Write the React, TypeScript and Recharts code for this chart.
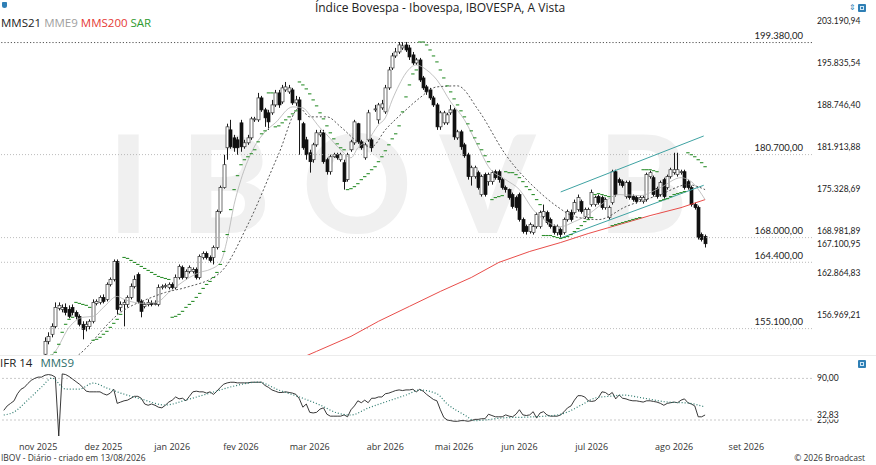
import React from 'react';
import { ComposedChart, Bar, Line, XAxis, YAxis, ReferenceLine } from 'recharts';

// daily candles, IBOV (index 0 = mid Oct 2025, last = 13/08/2026)
const open = [
  142800, 143500, 144200, 144000, 144900, 145600, 146300, 146000, 147100, 147900, 148600, 149500,
  151650, 153380, 154330, 155410, 157880, 157740, 158020, 157740, 158020,
  157330, 156780, 155690, 155410, 155410, 156100, 158570, 158710, 159410, 159130,
  161230, 161940, 164520, 158020, 158430, 158430, 159410, 160950, 162650, 158850,
  158160, 158430, 158570, 158430, 158430, 160810, 160950, 160810, 161230, 160810,
  162220, 163660, 162220, 163080, 163080, 163370, 162220, 165100, 165680, 165100, 165100, 166550,
  171880, 175540, 181790, 184670, 183380, 183060, 185810, 181950, 182580, 183380,
  186300, 186300, 189920, 187940, 187450, 187450, 188760, 190760, 189260, 191260,
  190930, 191260, 189090, 189590, 185670, 183060, 180990, 179890, 182260, 183860,
  184190, 179890, 178010, 180360, 180680, 179890, 179420, 176770, 181470, 182580,
  185670, 182740, 180200, 183060, 183060, 187940, 186300, 188270, 187610, 191600,
  194980, 197050, 197740, 198440, 198960, 198440, 197230,
  195840, 196360, 193280, 191770, 191260, 189920, 188760, 185160, 185810, 185810,
  187450, 187940, 183380, 184350, 182260, 180680, 177240, 177240, 177860, 174470,
  177550, 176460, 176460, 178010, 178010, 176770, 175540, 175230, 174470, 174010,
  174470, 170680, 169630, 168900, 168750, 169630, 169630, 171130, 171730, 170680,
  169630, 168750, 169190, 168750, 170680, 171730, 171730, 172180, 173390, 171130, 170980, 172940,
  172940, 174160, 174010, 172480, 170980, 173240, 178010, 176770, 176460, 174160,
  176310, 174160, 174010, 173700, 173390, 173700, 177240, 177080, 175390, 174470,
  176770, 175540, 177240, 177860, 177550, 177860, 178010, 176460, 175540, 172940, 172480, 168450, 168160,
];
const high = [
  143900, 144600, 144500, 145200, 145900, 146600, 146700, 147400, 148200, 148900, 149800, 150700,
  153920, 154600, 155820, 158710, 158710, 158430, 158570, 158300, 158430,
  157600, 157050, 156100, 156100, 156370, 159130, 159130, 159690, 159830, 161520,
  162220, 164810, 164810, 158850, 159130, 159690, 161370, 162510, 162940, 159130,
  158710, 159130, 158990, 158990, 161230, 161230, 161370, 161520, 161520, 162650,
  164090, 163940, 163370, 163940, 163660, 163660, 165530, 165970, 165970, 165390, 166840, 172180,
  175850, 180680, 185670, 186300, 183860, 183540, 186300, 183060, 183860, 186790,
  186790, 190760, 190260, 188270, 187940, 189590, 191260, 191260, 192100, 192600,
  192100, 191600, 190260, 190090, 185970, 183540, 181470, 182580, 184670, 184670,
  184670, 180200, 180680, 180990, 180990, 180990, 179890, 180990, 183060, 186300,
  185810, 183060, 182580, 187940, 183380, 188760, 189090, 189590, 192100, 195160,
  197570, 198440, 199480, 199480, 199480, 198960, 197740,
  196710, 196710, 193620, 192100, 191600, 190260, 189090, 187780, 187780, 187450,
  188760, 188270, 184670, 184670, 182580, 180990, 178950, 178950, 178170, 177550,
  177860, 177860, 178170, 178320, 178320, 177080, 175850, 175390, 174770, 174310,
  174770, 170980, 169930, 170230, 169930, 171730, 172030, 172940, 172030, 170980,
  169930, 169930, 169490, 170980, 172180, 172180, 173700, 174470, 173700, 172480, 172480, 175230,
  174310, 174470, 174310, 174010, 172790, 178320, 178320, 177080, 176770, 176620,
  176620, 174470, 174310, 174310, 174310, 177860, 178170, 177390, 175690, 176620,
  177080, 177550, 178630, 180990, 180990, 178320, 178320, 176770, 175850, 173240, 172790, 168750, 168450,
];
const low = [
  142500, 143200, 143600, 143800, 144700, 145400, 145700, 145900, 146900, 147600, 148300, 149200,
  151250, 152980, 153920, 155140, 157600, 157330, 156920, 156510, 156920,
  156370, 155410, 153650, 154730, 155000, 155820, 158300, 158430, 158570, 158850,
  160950, 161660, 157050, 157470, 155410, 158020, 159130, 160670, 158570, 156650,
  157880, 158160, 158160, 158300, 158160, 160530, 160670, 160530, 160530, 160530,
  161940, 161940, 161940, 162800, 162800, 161940, 161940, 164810, 164810, 164380, 164090, 166260,
  171580, 175380, 179890, 181630, 181150, 180680, 181150, 181630, 182260, 183060,
  185970, 185970, 187610, 185160, 184670, 187120, 188430, 188270, 188930, 190930,
  190600, 188760, 188600, 180680, 181470, 179890, 177860, 179420, 181950, 183540,
  179260, 177550, 177550, 180200, 179890, 179580, 175230, 176460, 181150, 182260,
  182420, 181470, 179890, 182740, 181150, 187610, 185670, 187940, 187280, 191260,
  194640, 196710, 197400, 198090, 197740, 196360, 195500,
  195500, 192600, 191260, 190430, 189590, 188430, 184670, 184670, 185490, 185490,
  187120, 183060, 183060, 181470, 180200, 176770, 175850, 176930, 175230, 174160,
  174160, 175850, 176000, 176770, 176310, 175230, 174770, 173700, 172330, 172030,
  170380, 168600, 168450, 168600, 168450, 169340, 169340, 170830, 169930, 169340,
  168450, 168310, 168010, 168450, 170380, 170380, 171430, 171880, 171580, 170830, 170680, 172640,
  172640, 172940, 172180, 172180, 170680, 172940, 174160, 175850, 175540, 173850,
  173700, 173390, 173090, 173390, 173090, 173390, 176930, 174160, 173850, 174160,
  173850, 175230, 176930, 177550, 177240, 177550, 175230, 175230, 172640, 172180, 167720, 167430, 166550,
];
const close = [
  143500, 144200, 144000, 144900, 145600, 146300, 146000, 147100, 147900, 148600, 149500, 150400,
  153380, 154050, 155410, 158020, 158300, 158020, 157330, 156780, 157330,
  156780, 155690, 155000, 155690, 156100, 158710, 158850, 159410, 158850, 161230,
  161940, 164520, 157740, 158430, 158710, 159410, 160950, 161940, 158850, 157470,
  158430, 158710, 158430, 158570, 160810, 160950, 161090, 161230, 160810, 162220,
  163800, 162220, 163080, 163660, 163370, 162220, 165250, 165680, 165100, 164670, 166550, 171880,
  175540, 179100, 185160, 181950, 181790, 181790, 181950, 182580, 183380, 186460,
  186460, 189920, 187940, 186630, 185970, 188760, 190760, 188760, 191600, 191770,
  191600, 189090, 189590, 186300, 181790, 180680, 179580, 182260, 184190, 184190,
  179580, 178010, 180360, 180680, 180200, 180680, 176460, 180680, 182740, 185970,
  182740, 181790, 182260, 187450, 181790, 188100, 188760, 188930, 191600, 194640,
  197050, 197740, 198960, 198790, 198090, 196880, 195840,
  196360, 192940, 191600, 190930, 189920, 188760, 185160, 187450, 187450, 187120,
  187940, 183540, 184350, 181950, 180520, 177240, 178630, 178630, 175540, 177240,
  174470, 177550, 177860, 177080, 176770, 175540, 175230, 174010, 172640, 172480,
  170680, 168900, 168900, 169930, 169630, 171430, 171730, 171880, 170230, 169630,
  168750, 169630, 168450, 170680, 171880, 170680, 173240, 174010, 171880, 172180, 172180, 174770,
  174010, 173240, 172480, 173700, 172480, 178010, 174470, 176310, 175850, 176310,
  174010, 173700, 173390, 174010, 174010, 177550, 177860, 174470, 174160, 176310,
  174160, 177240, 178320, 178320, 178320, 178010, 175540, 175540, 172940, 172480, 168010, 167720, 167100.95,
];

// parabolic SAR, one value per candle
const sar = [
  140500, 141000, 141600, 142100, 142700, 143200, 143800, 144300, 144900, 145500, 146100, 146800,
  150300, 150980, 151520, 151910, 152980, 154600, 155690, 156370, 156650,
  158710, 158570, 158430, 158300, 158020,
  153520, 153650, 153920, 154330, 154730, 155270, 155820, 156370, 157050,
  165100, 164960, 164670, 164380, 164090, 163800, 163510, 163230, 162940, 162650, 162370, 162220, 162080, 161940,
  156650, 156780, 157050, 157470, 158020, 158430, 158850, 159410, 159970, 160670, 161230, 161660, 162220, 162940,
  164090, 165970, 168450, 172180, 175230, 177390, 179100, 179890, 180360, 180840, 181470, 182740, 184030, 184510,
  190760, 190760,
  185160, 185320, 185810, 186300, 186790, 187280, 187780,
  192600, 192100, 191430, 190600, 189590, 188600, 187450, 186460, 185320, 184190, 183220, 182420, 181790, 181470,
  175230, 175380, 175690, 176150, 176770, 177240, 177700, 178320, 178790, 179580,
  180360, 181310, 182260, 183220, 184030, 185320, 187610, 190090, 192100, 193960,
  194640,
  199480, 199480, 198960, 198090, 197050, 196020, 194640, 193280, 191940, 190930, 189760,
  188760, 187780, 186790, 185650, 184510, 183380, 182420, 181470, 180520, 179580,
  173700, 174010, 174160, 174310,
  178010, 177860, 177860, 177550, 177080, 176460, 175690, 175230, 174470, 173700, 172940,
  168310, 168310, 168310, 168160, 168010, 167870, 168010, 168160, 168450, 168900, 169340, 169780, 170380, 170680, 170980,
  174470, 174620, 174470, 174310, 174160,
  169780, 169930, 170080, 170230, 170380, 170530, 170680, 170830, 170980,
  178320, 178320, 178320, 178170, 178010,
  173540, 173700, 173850, 174160, 174470, 174620, 174770, 174930,
  180990, 180680, 180360, 179890, 179420, 178790,
];

// IFR 14 per candle
const ifr = [
  40, 47, 51, 55, 66, 73, 76, 82, 87, 90, 92, 92, 95, 96, 95, 92, 0, 97,
  96, 93, 89, 85, 81, 76, 70, 69, 69, 69, 69, 66, 64, 67, 73,
  51, 53, 55, 56, 59, 62, 62, 59, 50, 48, 50, 48, 45, 44, 48, 53, 56, 61, 58, 59, 55, 62, 69, 70, 69, 69, 67, 69, 65, 70,
  76, 81, 83, 84, 84, 83, 83, 83, 83, 84, 84, 84, 84, 79, 76, 72, 70, 68, 68, 69, 68, 67, 65,
  58, 45, 50, 37, 36, 37, 42, 44, 34, 31, 31, 31, 31, 33, 30,
  41, 47, 55, 52, 56, 52, 59, 59, 61, 61, 66, 67, 69, 71, 72, 71, 72, 72, 73, 69, 73, 70, 65, 61, 57, 55,
  41, 29, 25, 24, 23, 23, 24, 24, 23, 24, 26, 26, 27, 27,
  34, 32, 30, 30, 30, 33, 31, 30, 34, 41, 33, 32, 33, 38, 28, 36, 38, 33, 31, 31, 31, 33,
  38, 44, 47, 56, 63, 63, 61, 55, 54, 55, 60, 69, 68, 64, 68, 58, 64, 59, 58, 56, 55, 55, 54, 53, 55, 55,
  54, 53, 51, 48, 51, 52, 53, 52, 56, 58, 52, 50, 47, 30, 30, 32.83,
];

// averages as [candle, value]
const mms21Pts = [
  [19, 150600], [22, 151650], [34, 157330], [43, 159410], [47, 160110], [53, 160810], [63, 162940],
  [71, 169930], [80, 180840], [86, 188270], [89, 186790], [94, 186790], [98, 185160], [103, 182740],
  [107, 181950], [111, 184670], [117, 187940], [121, 189920], [126, 191770], [132, 191940], [138, 187940],
  [146, 180680], [156, 174770], [161, 172640], [166, 171130], [173, 170680], [181, 172640], [191, 174470],
  [199, 176000], [204, 175230],
];
const mme9Pts = [
  [12, 150800], [15, 152040], [19, 155270], [23, 156650], [26, 156780], [29, 158020], [33, 159550], [35, 159130],
  [38, 158710], [41, 158570], [45, 158850], [48, 160110], [51, 161230], [54, 162220], [57, 162940],
  [60, 163370], [63, 164380], [65, 167720], [67, 172940], [69, 176770], [72, 180990], [76, 184350],
  [79, 185810], [84, 188430], [87, 188270], [89, 187120], [92, 185000], [94, 183860], [98, 181470],
  [101, 180200], [103, 181790], [106, 183060], [109, 185490], [111, 186630], [113, 189590], [115, 192100],
  [117, 194130], [120, 195500], [123, 194640], [126, 192940], [130, 189260], [134, 186300], [138, 181950],
  [141, 178790], [146, 176770], [150, 175230], [154, 172180], [158, 170380], [162, 169630], [166, 170380],
  [170, 171430], [173, 172640], [179, 174470], [185, 174310], [191, 175540], [197, 177080], [200, 176460],
  [204, 173700],
];
const mms200Pts = [
  [84, 150650], [91, 152040], [101, 154050], [109, 156100], [118, 158160], [127, 160250], [136, 162220],
  [144, 164380], [153, 165970], [162, 167280], [170, 168600], [179, 169930], [188, 171280], [197, 172480],
  [204, 173700],
];
const ifrMms9Pts = [
  [0, 32.8], [3, 37.5], [7, 56.2], [11, 76.4], [14, 90.5], [18, 73.3], [22, 73.3], [26, 82.7], [30, 74.9],
  [34, 67.1], [40, 57.8], [47, 48.4], [53, 56.2], [61, 68.7], [67, 78], [74, 84.2], [80, 71.8], [86, 60.9],
  [92, 48.4], [97, 36], [101, 32.8], [106, 43.7], [111, 53.1], [117, 64], [121, 71.8], [126, 66], [129, 50],
  [134, 33], [137, 24], [140, 25], [145, 28.2], [153, 29.7], [161, 32.8], [164, 37.5], [168, 48.4],
  [172, 59.3], [177, 62.4], [180, 64], [186, 59.3], [193, 53.1], [199, 51.5], [204, 45.3],
];

const monthTicks = [10, 29, 49, 69, 89, 111, 131, 150, 171, 195, 216];
const monthLabels = ['nov 2025', 'dez 2025', 'jan 2026', 'fev 2026', 'mar 2026', 'abr 2026', 'mai 2026', 'jun 2026', 'jul 2026', 'ago 2026', 'set 2026'];
const priceTicks = [203190.94, 195835.54, 188746.4, 181913.88, 175328.69, 168981.89, 162864.83, 156969.21];
const priceLevels = [199380, 180700, 168000, 164400, 155100];
const ifrLevels = [25, 90];
const channel = [
  [{ x: 162, y: 174870 }, { x: 203.6, y: 183680 }],
  [{ x: 162, y: 167940 }, { x: 203.6, y: 175900 }],
];

const X_DOMAIN: [number, number] = [-1.09, 235.1];
const PRICE_DOMAIN: [number, number] = [151550, 204440];
const NUM_FONT = 'Lato, "Open Sans", sans-serif';

function fmtBR(v: number, d = 2) {
  const [int, dec] = v.toFixed(d).split('.');
  return int.replace(/\B(?=(\d{3})+(?!\d))/g, '.') + (dec ? ',' + dec : '');
}

const rows: any[] = close.map((c, i) => ({
  i, o: open[i], h: high[i], l: low[i], c,
  range: [low[i], high[i]],
  sar: sar[i],
  ifr: ifr[i],
}));
mms21Pts.forEach(([k, v]) => { rows[k].mms21 = v; });
mme9Pts.forEach(([k, v]) => { rows[k].mme9 = v; });
mms200Pts.forEach(([k, v]) => { rows[k].mms200 = v; });
ifrMms9Pts.forEach(([k, v]) => { rows[k].ifrM9 = v; });

function Candle(props: any) {
  const { x, y, width, height, payload } = props;
  if (payload == null || !isFinite(y) || !isFinite(height)) return null;
  const { o, h, l, c } = payload;
  const lh = Math.log(h);
  const ll = Math.log(l);
  const py = (v: number) => (lh === ll ? y : y + (height * (lh - Math.log(v))) / (lh - ll));
  const cx = Math.round(x + width / 2) + 0.5;
  const up = c >= o;
  const top = py(Math.max(o, c));
  const bot = py(Math.min(o, c));
  return (
    <g>
      <line x1={cx} x2={cx} y1={y} y2={y + height} stroke="#1a1a1a" strokeWidth={1} />
      <rect x={cx - 1.5} y={top} width={3} height={Math.max(bot - top, 0.8)}
        fill={up ? '#ffffff' : '#111111'} stroke={up ? '#333' : '#111'} strokeWidth={0.7} />
    </g>
  );
}

function SarDash(props: any) {
  const { cx, cy } = props;
  if (cx == null || cy == null || !isFinite(cy)) return null;
  return <line key={`s${props.index}`} x1={cx - 1.7} x2={cx + 1.7} y1={cy} y2={cy} stroke="#2e8f2e" strokeWidth={1.1} />;
}

const levelLabel = (text: string) => (props: any) => {
  const vb = props.viewBox;
  if (!vb) return null;
  return (
    <text x={vb.x + vb.width - 9} y={vb.y - 3.5} textAnchor="end" fontSize={9.5} fill="#222" fontFamily={NUM_FONT}>
      {text}
    </text>
  );
};

// value label on the right axis; `cover` paints a white box behind it
const sideLabel = (text: string, cover: boolean) => (props: any) => {
  const vb = props.viewBox;
  if (!vb) return null;
  const x = vb.x + vb.width + 5;
  return (
    <g>
      {cover && <rect x={x - 1} y={vb.y - 5.5} width={48} height={10} fill="#fff" />}
      <text x={x} y={vb.y} dy="0.35em" fontSize={8.5} fill="#222" fontFamily={NUM_FONT}>{text}</text>
    </g>
  );
};

function Icon({ left, top }: { left: number; top: number }) {
  return (
    <div style={{ position: 'absolute', left, top, width: 8, height: 8, background: '#2f7fb5', borderRadius: 1 }}>
      <div style={{ position: 'absolute', left: 2, top: 2, width: 4, height: 4, border: '1px solid #cfe6f5', boxSizing: 'border-box' }} />
    </div>
  );
}

export default function App() {
  const last = rows[rows.length - 1];
  return (
    <div style={{ position: 'relative', width: 876, height: 465, background: '#fff', overflow: 'hidden', fontFamily: '"Open Sans", sans-serif' }}>
      <style>{'body{margin:0}'}</style>

      <svg width={876} height={356} style={{ position: 'absolute', left: 0, top: 0 }}>
        <text x={108} y={233} fontSize={135} fontWeight={900} fill="#f0f0f0" fontFamily="Lato, sans-serif" textLength={427} lengthAdjust="spacing">IBOV</text>
        <text x={598} y={233} fontSize={135} fontWeight={900} fill="#f0f0f0" fontFamily="Lato, sans-serif">B</text>
      </svg>

      <div style={{ position: 'absolute', left: 0, top: 0, width: 880, textAlign: 'center', fontSize: 12, lineHeight: '16px', color: '#222' }}>
        Índice Bovespa - Ibovespa, IBOVESPA, A Vista
      </div>
      <div style={{ position: 'absolute', left: 2, top: 2, width: 5, height: 6, background: '#2f7fb5', borderRadius: '1px 1px 3px 3px' }} />
      <div style={{ position: 'absolute', left: 849, top: 3, fontSize: 8, color: '#2f7fb5', lineHeight: '8px' }}>⇕</div>
      <Icon left={858} top={4} />
      <Icon left={858} top={360} />

      <div style={{ position: 'absolute', left: 1, top: 15, fontSize: 11.5, lineHeight: '16px', whiteSpace: 'nowrap' }}>
        <span style={{ color: '#222' }}>MMS21</span>{' '}
        <span style={{ color: '#a0a0a0' }}>MME9</span>{' '}
        <span style={{ color: '#e53935' }}>MMS200</span>{' '}
        <span style={{ color: '#2f9a2f' }}>SAR</span>
      </div>

      <div style={{ position: 'absolute', left: 0, top: 0 }}>
        <ComposedChart width={876} height={356} data={rows} margin={{ top: 14, right: 0, bottom: 1, left: 0 }}>
          <XAxis dataKey="i" type="number" domain={X_DOMAIN} allowDataOverflow hide />
          <YAxis orientation="right" width={64} scale="log" domain={PRICE_DOMAIN} allowDataOverflow
            ticks={priceTicks} interval={0} tickFormatter={(v: number) => fmtBR(v)}
            axisLine={false} tickLine={false} tickSize={3} tickMargin={2}
            tick={{ fontSize: 8.5, fill: '#222', fontFamily: NUM_FONT }} />
          {priceLevels.map((lv, k) => (
            <ReferenceLine key={lv} y={lv} stroke={k === 0 ? '#555' : '#aaa'} strokeWidth={k === 0 ? 1 : 0.8}
              strokeDasharray={k === 0 ? '1.2 2' : '1 2'} label={levelLabel(fmtBR(lv))} />
          ))}
          <Bar dataKey="range" barSize={3} shape={Candle} isAnimationActive={false} />
          <Line dataKey="mms200" type="linear" stroke="#e53935" strokeWidth={0.9} dot={false} activeDot={false} connectNulls isAnimationActive={false} />
          <Line dataKey="mme9" type="monotone" stroke="#b3b3b3" strokeWidth={0.8} dot={false} activeDot={false} connectNulls isAnimationActive={false} />
          <Line dataKey="mms21" type="monotone" stroke="#444" strokeWidth={0.9} strokeDasharray="2 2" dot={false} activeDot={false} connectNulls isAnimationActive={false} />
          <Line dataKey="sar" stroke="none" dot={SarDash} activeDot={false} isAnimationActive={false} />
          {channel.map((seg, k) => (
            <ReferenceLine key={`ch${k}`} segment={seg} stroke="#3fa3a3" strokeWidth={1} />
          ))}
          <ReferenceLine y={last.c} stroke="none" label={sideLabel(fmtBR(last.c), true)} />
        </ComposedChart>
      </div>

      <div style={{ position: 'absolute', left: 0, top: 355, width: 876, borderTop: '1px solid #ececec' }} />

      <div style={{ position: 'absolute', left: 0, top: 356, fontSize: 11.5, lineHeight: '14px', whiteSpace: 'nowrap' }}>
        <span style={{ color: '#222' }}>IFR 14</span>{'  '}
        <span style={{ color: '#2d6e6a', marginLeft: 5 }}>MMS9</span>
      </div>

      <div style={{ position: 'absolute', left: 0, top: 356 }}>
        <ComposedChart width={876} height={100} data={rows} margin={{ top: 16, right: 0, bottom: 0, left: 0 }}>
          <XAxis dataKey="i" type="number" domain={X_DOMAIN} allowDataOverflow ticks={monthTicks} interval={0}
            tickFormatter={(v: number) => monthLabels[monthTicks.indexOf(v)] ?? ''}
            axisLine={false} tickLine={false} height={20}
            tick={{ fontSize: 9, fill: '#333', fontFamily: '"Open Sans", sans-serif' }} />
          <YAxis orientation="right" width={64} domain={[0, 100]} allowDataOverflow ticks={[]} tick={false}
            axisLine={false} tickLine={false} />
          {ifrLevels.map((t) => (
            <ReferenceLine key={t} y={t} stroke="#bbb" strokeWidth={0.8} strokeDasharray="2 2"
              label={sideLabel(fmtBR(t), false)} />
          ))}
          <Line dataKey="ifr" type="linear" stroke="#222" strokeWidth={0.9} dot={false} activeDot={false} isAnimationActive={false} />
          <Line dataKey="ifrM9" type="monotone" stroke="#2d7a6e" strokeWidth={1.2} strokeDasharray="1 2" dot={false} activeDot={false} connectNulls isAnimationActive={false} />
          <ReferenceLine y={last.ifr} stroke="none" label={sideLabel(fmtBR(last.ifr), true)} />
        </ComposedChart>
      </div>

      <div style={{ position: 'absolute', left: 1, top: 452, fontSize: 8.5, color: '#333', whiteSpace: 'nowrap' }}>
        IBOV - Diário - criado em 13/08/2026
      </div>
      <div style={{ position: 'absolute', right: 11, top: 452, fontSize: 8.5, color: '#333', whiteSpace: 'nowrap' }}>
        © 2026 Broadcast
      </div>
    </div>
  );
}
